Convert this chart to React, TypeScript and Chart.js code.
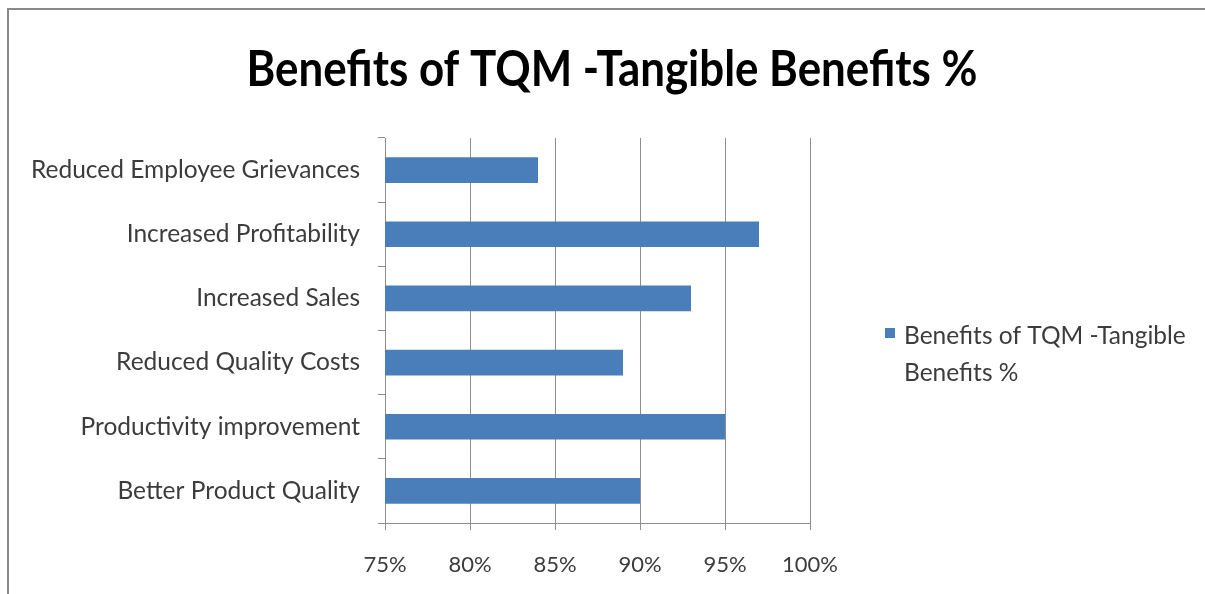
import React, { useEffect, useRef } from "react";
import { Chart, registerables } from "chart.js";

Chart.register(...registerables);

const titleText = "Benefits of TQM -Tangible Benefits %";
const seriesName = "Benefits of TQM -Tangible Benefits %";
const legendLines = ["Benefits of TQM -Tangible", "Benefits %"];
const categories = [
  "Reduced Employee Grievances",
  "Increased Profitability",
  "Increased Sales",
  "Reduced Quality Costs",
  "Productivity improvement",
  "Better Product Quality",
];
const values = [84, 97, 93, 89, 95, 90];
const xMin = 75;
const xMax = 100;
const xStep = 5;

const FONT = "Lato, 'Open Sans', sans-serif";
const TEXT = "#3c3c3c";
const BAR = "#4a7ebb";
const GRID = "#8e8e8e";

const decorPlugin = {
  id: "decor",
  beforeDraw(chart: any) {
    const ctx = chart.ctx;
    ctx.save();
    ctx.fillStyle = "#ffffff";
    ctx.fillRect(0, 0, chart.width, chart.height);
    ctx.strokeStyle = "#8a8a8a";
    ctx.lineWidth = 2;
    ctx.beginPath();
    ctx.moveTo(8, chart.height);
    ctx.lineTo(8, 9);
    ctx.lineTo(chart.width, 9);
    ctx.stroke();
    ctx.restore();
  },
  afterDraw(chart: any) {
    const ctx = chart.ctx;
    ctx.save();
    // title
    ctx.font = `bold 49px ${FONT}`;
    ctx.fillStyle = "#000000";
    ctx.textBaseline = "alphabetic";
    ctx.textAlign = "left";
    const w = ctx.measureText(titleText).width;
    const target = 731;
    const sx = target / w;
    ctx.translate(612 - target / 2, 86);
    ctx.scale(sx, 1);
    ctx.fillText(titleText, 0, 0);
    ctx.restore();

    // legend
    ctx.save();
    const ds = chart.data.datasets[0];
    ctx.fillStyle = ds.backgroundColor;
    ctx.fillRect(885, 328, 10, 10);
    ctx.font = `24.5px ${FONT}`;
    ctx.fillStyle = TEXT;
    ctx.textBaseline = "alphabetic";
    ctx.textAlign = "left";
    legendLines.forEach((line, i) => {
      ctx.fillText(line, 904, 344 + i * 37);
    });
    ctx.restore();
  },
};

export default function App() {
  const ref = useRef<HTMLCanvasElement | null>(null);
  useEffect(() => {
    if (!ref.current) return;
    const chart = new Chart(ref.current, {
      type: "bar",
      data: {
        labels: categories,
        datasets: [
          {
            label: seriesName,
            data: values,
            backgroundColor: BAR,
            borderWidth: 0,
            barPercentage: 0.8,
            categoryPercentage: 0.5,
          },
        ],
      },
      options: {
        indexAxis: "y",
        responsive: false,
        animation: false,
        layout: { padding: { left: 0, right: 395, top: 138, bottom: 0 } },
        plugins: {
          legend: { display: false },
          title: { display: false },
          tooltip: { enabled: false },
        },
        scales: {
          x: {
            min: xMin,
            max: xMax,
            afterFit: (s: any) => {
              s.height = 71;
            },
            ticks: {
              stepSize: xStep,
              callback: (v: any) => `${v}%`,
              font: { family: FONT, size: 22 },
              color: TEXT,
              padding: 22,
            },
            grid: { color: GRID, tickLength: 7, lineWidth: 1 },
            border: { color: GRID },
          },
          y: {
            afterFit: (s: any) => {
              s.width = 385;
            },
            ticks: {
              font: { family: FONT, size: 24.5 },
              color: TEXT,
              padding: 18,
            },
            grid: { drawOnChartArea: false, tickLength: 7, color: GRID, offset: true },
            border: { color: GRID },
          },
        },
      },
      plugins: [decorPlugin],
    });
    return () => chart.destroy();
  }, []);
  return (
    <div style={{ position: "fixed", left: 0, top: 0, width: 1205, height: 594 }}>
      <canvas ref={ref} width={1205} height={594} style={{ display: "block" }} />
    </div>
  );
}
